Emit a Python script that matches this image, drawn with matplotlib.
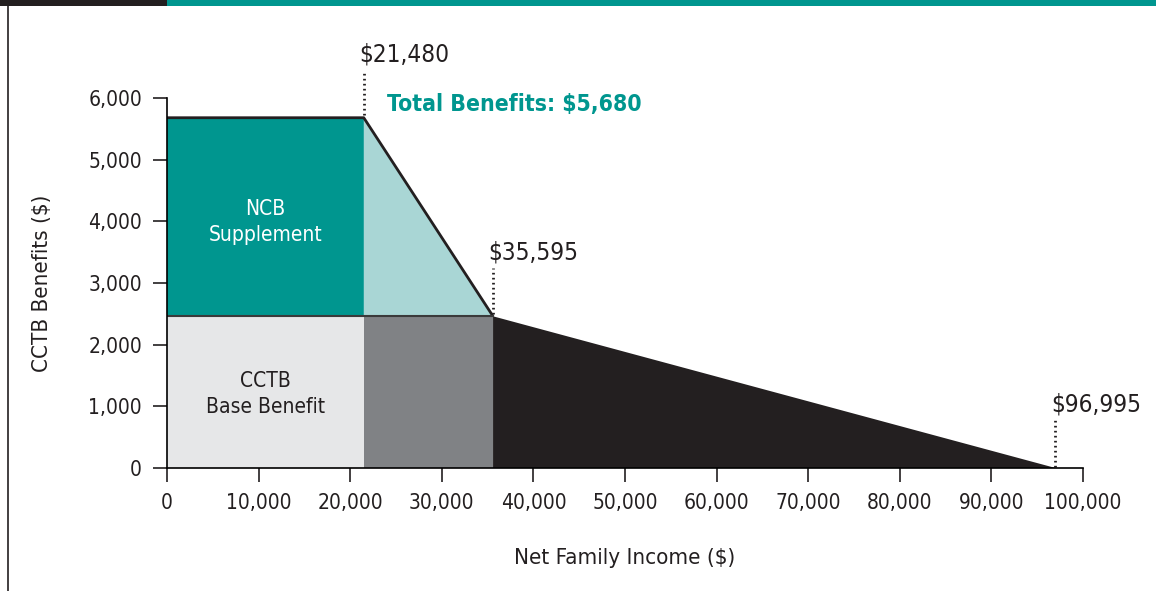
import numpy as np
import matplotlib as mpl
mpl.use('Agg')
import matplotlib.pyplot as plt
from matplotlib.patches import Rectangle, Polygon
from matplotlib.lines import Line2D

# values
ncb_end = 21480        # NCB supplement starts phasing out
base_end = 35595       # supplement gone, base benefit starts phasing out
zero_at = 96995        # base benefit gone
total_benefit = 5680
base_benefit = 2460
yticks = [0, 1000, 2000, 3000, 4000, 5000, 6000]
xticks = [0, 10000, 20000, 30000, 40000, 50000, 60000, 70000, 80000, 90000, 100000]

teal = "#00968f"
teal_light = "#a9d6d5"
grey_light = "#e6e7e8"
grey_dark = "#808285"
black = "#231f20"

plt.rcParams['font.family'] = ['DejaVu Sans']
plt.rcParams['font.stretch'] = 'condensed'

fig = plt.figure(figsize=(11.56, 5.91), dpi=100)
ax = fig.add_axes([167/1156, 1-468/591, 916/1156, 370/591])

# base benefit blocks
ax.add_patch(Rectangle((0, 0), ncb_end, base_benefit, facecolor=grey_light, edgecolor='none'))
ax.add_patch(Rectangle((ncb_end, 0), base_end-ncb_end, base_benefit, facecolor=grey_dark, edgecolor='none'))
ax.add_patch(Polygon([(base_end, 0), (base_end, base_benefit), (zero_at, 0)], closed=True,
                     facecolor=black, edgecolor='none'))
# NCB supplement
ax.add_patch(Rectangle((0, base_benefit), ncb_end, total_benefit-base_benefit, facecolor=teal, edgecolor='none'))
ax.add_patch(Polygon([(ncb_end, base_benefit), (ncb_end, total_benefit), (base_end, base_benefit)], closed=True,
                     facecolor=teal_light, edgecolor='none'))

# outlines
ax.plot([0, ncb_end, base_end], [total_benefit, total_benefit, base_benefit], color=black, lw=2, solid_capstyle='butt')
ax.plot([0, base_end], [base_benefit, base_benefit], color="#3a3a3a", lw=1.5)

# dotted markers + labels
for xv, ytop, ybot, lab in [(ncb_end, 6450, total_benefit+40, "$21,480"),
                            (base_end, 3240, base_benefit+40, "$35,595"),
                            (zero_at, 780, 20, "$96,995")]:
    ax.plot([xv, xv], [ybot, ytop], color=black, lw=2, linestyle=(0, (0.6, 1.2)), clip_on=False)
    ax.text(xv - 500, ytop + 60, lab, fontsize=17.5, color=black, ha='left', va='bottom', clip_on=False)

ax.text(24000, 5900, "Total Benefits: $5,680", fontsize=16.5, fontweight='bold', color=teal,
        ha='left', va='center')
ax.text(ncb_end/2, 3990, "NCB\nSupplement", fontsize=15, color='white', ha='center', va='center', linespacing=1.35)
ax.text(ncb_end/2, 1200, "CCTB\nBase Benefit", fontsize=15, color=black, ha='center', va='center', linespacing=1.35)

ax.set_xlim(0, 100000)
ax.set_ylim(0, 6000)
ax.set_xticks(xticks)
ax.set_yticks(yticks)
ax.set_xticklabels([f"{v:,}" for v in xticks])
ax.set_yticklabels([f"{v:,}" for v in yticks])
ax.tick_params(axis='both', labelsize=15, colors=black, length=10, width=1.2, direction='out', pad=8)
ax.spines['top'].set_visible(False)
ax.spines['right'].set_visible(False)
ax.spines['left'].set_linewidth(1.2)
ax.spines['bottom'].set_linewidth(1.2)
ax.set_xlabel("Net Family Income ($)", fontsize=16, color=black, labelpad=25)
ax.set_ylabel("CCTB Benefits ($)", fontsize=16, color=black, labelpad=26)

# header strip and left rule
fig.patches.append(Rectangle((0, 1-6/591), 167/1156, 6/591, transform=fig.transFigure, facecolor=black, edgecolor='none'))
fig.patches.append(Rectangle((167/1156, 1-6/591), 1-167/1156, 6/591, transform=fig.transFigure, facecolor=teal, edgecolor='none'))
fig.lines.append(Line2D([8/1156, 8/1156], [0, 1-6/591], transform=fig.transFigure, color=black, lw=1.2))

plt.savefig("out.png", dpi=100)
